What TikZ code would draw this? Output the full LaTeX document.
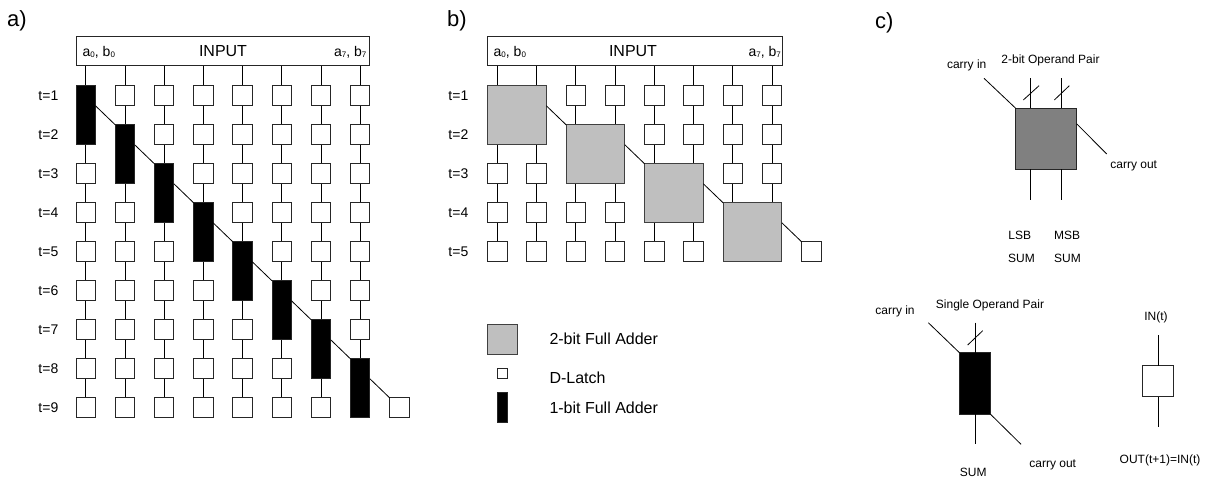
\documentclass[tikz,border=0pt]{standalone}
\usepackage{fontspec}
\setmainfont{Liberation Sans}
\usetikzlibrary{backgrounds,calc}
\newcommand\sbs[1]{\raisebox{-1.8pt}{\fontsize{8}{8}\selectfont #1}}
\tikzset{
  box/.style={draw=black!85, line width=0.9pt, inner sep=0pt, outer sep=0pt},
  latch/.style={box, fill=white, minimum size=19.5pt},
  fa1/.style={box, fill=black, minimum width=19.5pt, minimum height=58.5pt},
  fa2/.style={box, draw=black!75, fill=black!25, minimum width=58.75pt, minimum height=58.5pt},
  fac/.style={box, fill=black!50, minimum size=61pt},
  inbox/.style={box, fill=white, minimum height=29pt},
  wire/.style={line width=0.8pt},
  lbl/.style={font=\fontsize{14}{14}\selectfont, inner sep=0pt, anchor=east},
  intxt/.style={font=\fontsize{14}{14}\selectfont, inner sep=0pt},
  ptitle/.style={font=\fontsize{22}{22}\selectfont, inner sep=0pt, anchor=base west},
  legtxt/.style={font=\fontsize{16}{16}\selectfont, inner sep=0pt, anchor=west},
  ctxt/.style={font=\fontsize{12}{12}\selectfont, inner sep=0pt, anchor=base},
}
\begin{document}
\begin{tikzpicture}[x=1pt,y=-1pt]
\useasboundingbox (0,0) rectangle (1206,481);

% ---------------- panel a ----------------
\node[ptitle] (ta) at (7,27) {a)};
\node[inbox, minimum width=293.6pt] (inA) at (222.9,51.2) {};
\node[intxt, anchor=west] (inA-l) at (82.5,52) {a\sbs{0}, b\sbs{0}};
\node[intxt, font=\fontsize{16}{16}\selectfont] (inA-c) at (223,51.5) {INPUT};
\node[intxt, anchor=east] (inA-r) at (366.5,52) {a\sbs{7}, b\sbs{7}};

\foreach \j in {0,...,7}{
  \foreach \i in {1,...,9}{
    \pgfmathtruncatemacro\skipit{(\i==\j+1)||(\i==\j+2)}
    \ifnum\skipit=0
      \node[latch] (a-\j-\i) at ({85.7+39.2*\j},{95.5+39*(\i-1)}) {};
    \fi
  }
  \node[fa1] (fa-\j) at ({85.7+39.2*\j},{115+39*\j}) {};
}
\node[latch] (a-8-9) at ({85.7+39.2*8},407.5) {};
\foreach \i in {1,...,9}
  \node[lbl] (tla-\i) at (58.5,{95.5+39*(\i-1)}) {t=\i};

\foreach \j [evaluate=\j as \k using int(\j+1)] in {0,...,6}
  \draw[wire] ($(fa-\j.north east)+(0,20)$) -- (fa-\k.north west);
\draw[wire] ($(fa-7.north east)+(0,20)$) -- (a-8-9.north west);

\begin{scope}[on background layer]
  \foreach \j in {0,...,6}
    \draw[wire] (inA.south -| a-\j-9) -- (a-\j-9.north);
  \draw[wire] (inA.south -| fa-7) -- (fa-7.north);
\end{scope}

% ---------------- panel b ----------------
\node[ptitle] (tb) at (447,27) {b)};
\node[inbox, minimum width=295pt] (inB) at (634.7,51.2) {};
\node[intxt, anchor=west] (inB-l) at (493.5,52) {a\sbs{0}, b\sbs{0}};
\node[intxt, font=\fontsize{16}{16}\selectfont] (inB-c) at (633,51.5) {INPUT};
\node[intxt, anchor=east] (inB-r) at (781,52) {a\sbs{7}, b\sbs{7}};

\foreach \j in {0,...,7}{
  \foreach \i in {1,...,5}{
    \pgfmathtruncatemacro\skipit{(\i==int(\j/2)+1)||(\i==int(\j/2)+2)}
    \ifnum\skipit=0
      \node[latch] (b-\j-\i) at ({497.3+39.25*\j},{95.5+39*(\i-1)}) {};
    \fi
  }
}
\foreach \k in {0,...,3}
  \node[fa2] (fb-\k) at ({497.3+39.25*(2*\k+0.5)},{115+39*\k}) {};
\node[latch] (b-8-5) at ({497.3+39.25*8},251.5) {};
\foreach \i in {1,...,5}
  \node[lbl] (tlb-\i) at (468.5,{95.5+39*(\i-1)}) {t=\i};

\foreach \j [evaluate=\j as \k using int(\j+1)] in {0,...,2}
  \draw[wire] ($(fb-\j.north east)+(0,20)$) -- (fb-\k.north west);
\draw[wire] ($(fb-3.north east)+(0,20)$) -- (b-8-5.north west);

\begin{scope}[on background layer]
  \foreach \j in {0,...,5}
    \draw[wire] (inB.south -| b-\j-5) -- (b-\j-5.north);
  \foreach \j in {6,7}
    \draw[wire] (inB.south -| b-\j-1) -- (fb-3.north -| b-\j-1);
\end{scope}

% ---------------- legend ----------------
\node[fa2, minimum width=29.5pt, minimum height=29.5pt] (lg-2) at (502.2,339.2) {};
\node[latch, minimum size=10pt] (lg-d) at (502.3,373.7) {};
\node[fa1, minimum width=10pt, minimum height=30pt] (lg-1) at (502.3,407.7) {};
\node[legtxt] (lg-2t) at (549.3,338.5) {2-bit Full Adder};
\node[legtxt] (lg-dt) at (549.3,378) {D-Latch};
\node[legtxt] (lg-1t) at (549.3,408) {1-bit Full Adder};

% ---------------- panel c ----------------
\node[ptitle] (tc) at (875,29) {c)};
% 2-bit adder
\node[fac] (c2) at (1046.2,138.8) {};
\coordinate (c2-i1) at (1030.7,78.3);
\coordinate (c2-i2) at (1061.7,78.3);
\coordinate (c2-o1) at (1030.7,200);
\coordinate (c2-o2) at (1061.7,200);
\coordinate (c2-ci) at (984,78.3);
\coordinate (c2-co) at (1106.7,154);
\draw[wire] (c2-i1) -- (c2.north -| c2-i1);
\draw[wire] (c2-i2) -- (c2.north -| c2-i2);
\draw[wire] (c2.south -| c2-o1) -- (c2-o1);
\draw[wire] (c2.south -| c2-o2) -- (c2-o2);
\draw[wire] (c2-ci) -- (c2.north west);
\draw[wire] ($(c2.north east)+(0,15.5)$) -- (c2-co);
\draw[wire] (1023.3,100) -- (1039,85.7);
\draw[wire] (1054.3,100) -- (1069.3,85.7);
\node[ctxt] (c2-cit) at (966.7,69) {carry in};
\node[ctxt] (c2-opt) at (1050.5,63.5) {2-bit Operand Pair};
\node[ctxt] (c2-cot) at (1133.7,168) {carry out};
\node[ctxt] (c2-lsb) at (1019.8,239.3) {LSB};
\node[ctxt] (c2-msb) at (1067,239.3) {MSB};
\node[ctxt] (c2-s1) at (1021.5,262.3) {SUM};
\node[ctxt] (c2-s2) at (1067.5,262.3) {SUM};

% 1-bit adder
\node[fa1, minimum width=31pt, minimum height=61.5pt] (c1) at (975,383.5) {};
\coordinate (c1-i) at (975,322.7);
\coordinate (c1-o) at (975,444.3);
\coordinate (c1-ci) at (928.3,322.7);
\coordinate (c1-co) at (1021,444.3);
\draw[wire] (c1-i) -- (c1.north);
\draw[wire] (c1.south) -- (c1-o);
\draw[wire] (c1-ci) -- (c1.north west);
\draw[wire] (c1.south east) -- (c1-co);
\draw[wire] (967.7,345) -- (982.7,330.7);
\node[ctxt] (c1-cit) at (895,314.3) {carry in};
\node[ctxt] (c1-opt) at (990,308) {Single Operand Pair};
\node[ctxt] (c1-sum) at (973.3,476.7) {SUM};
\node[ctxt] (c1-cot) at (1052.7,467.5) {carry out};

% latch
\node[latch, minimum size=31pt] (cl) at (1158.3,381.3) {};
\coordinate (cl-i) at (1158.3,335);
\coordinate (cl-o) at (1158.3,426.7);
\draw[wire] (cl-i) -- (cl.north);
\draw[wire] (cl.south) -- (cl-o);
\node[ctxt] (cl-in) at (1156,320.5) {IN(t)};
\node[ctxt] (cl-out) at (1160,463.6) {OUT(t+1)=IN(t)};
\end{tikzpicture}
\end{document}
